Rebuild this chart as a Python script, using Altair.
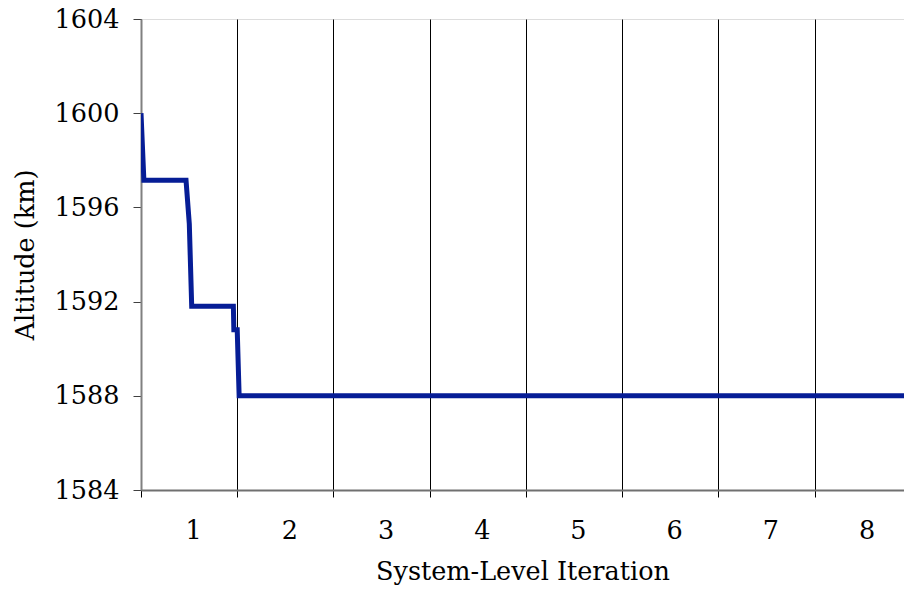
import altair as alt
import pandas as pd

# Altitude trace over system-level iterations (x in iteration units, 0 = start)
iter_pos = [0.0, 0.03, 0.468, 0.502, 0.527, 0.96, 0.965, 1.0, 1.02, 7.93]
altitude_km = [1600.0, 1597.15, 1597.15, 1595.3, 1591.8, 1591.8, 1590.8, 1590.8, 1588.0, 1588.0]

# Axis ticks and labels
y_ticks = [1584, 1588, 1592, 1596, 1600, 1604]
x_axis_values = [0, 0.5, 1, 1.5, 2, 2.5, 3, 3.5, 4, 4.5, 5, 5.5, 6, 6.5, 7, 7.5]

df = pd.DataFrame({"step": list(range(len(iter_pos))), "x": iter_pos, "alt": altitude_km})

FONT = "DejaVu Serif"
FS = 25.5

whole = "datum.value % 1 == 0"

chart = alt.Chart(df).mark_line(
    color="#061d96", strokeWidth=5, strokeJoin="miter", clip=True
).encode(
    x=alt.X(
        "x:Q",
        scale=alt.Scale(domain=[0, 7.93], nice=False, zero=False),
        axis=alt.Axis(
            title="System-Level Iteration",
            values=x_axis_values,
            labelExpr="datum.value % 1 != 0 ? format(datum.value + 0.5, 'd') : ''",
            labelOffset=4,
            labelPadding=21,
            labelFontSize=FS,
            labelColor="#000000",
            labelFont=FONT,
            tickSize=7,
            tickColor="#000000",
            tickOpacity=alt.ConditionalAxisNumber(condition={"test": whole, "value": 1}, value=0),
            grid=True,
            gridColor="#000000",
            gridWidth=1,
            gridOpacity=alt.ConditionalAxisNumber(condition={"test": whole, "value": 1}, value=0),
            domainColor="#707070",
            domainWidth=2,
            titleFont=FONT,
            titleFontSize=FS,
            titleFontWeight="normal",
            titleColor="#000000",
            titlePadding=16,
        ),
    ),
    y=alt.Y(
        "alt:Q",
        scale=alt.Scale(domain=[1584, 1604], nice=False, zero=False),
        axis=alt.Axis(
            title="Altitude (km)",
            values=y_ticks,
            format="d",
            labelPadding=14,
            labelFontSize=FS,
            labelFont=FONT,
            labelColor="#000000",
            tickSize=8,
            tickColor="#404040",
            grid=False,
            domainColor="#808080",
            domainWidth=2,
            titleFont=FONT,
            titleFontSize=FS,
            titleFontWeight="normal",
            titleColor="#000000",
            titlePadding=16,
        ),
    ),
    order="step:Q",
).properties(
    width=763,
    height=471,
    autosize=alt.AutoSizeParams(type="none"),
    padding={"left": 141, "top": 19, "right": 0, "bottom": 102},
).configure_view(
    stroke="#9a9a9a", strokeWidth=2
).configure(background="#ffffff")

chart.save("out.html", embed_options={"renderer": "svg", "actions": False})
